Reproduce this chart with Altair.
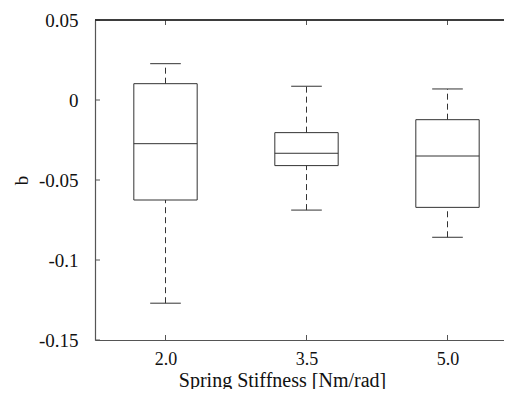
import altair as alt
import pandas as pd

positions = [2.0, 3.5, 5.0]
upper_whisker = [0.0227, 0.0086, 0.0069]
q3 = [0.0102, -0.0204, -0.0123]
median = [-0.0273, -0.0333, -0.0350]
q1 = [-0.0625, -0.0410, -0.0671]
lower_whisker = [-0.1270, -0.0688, -0.0858]

x_ticks = [2.0, 3.5, 5.0]
y_ticks = [-0.15, -0.1, -0.05, 0, 0.05]

BOX_HALF = 0.337
CAP_HALF = 0.163
FONT = "Liberation Serif"
BOX_COLOR = "#333333"
AXIS_COLOR = "#555555"
PLOT_W = 409
PLOT_H = 320

df = pd.DataFrame({
    "pos": positions, "uw": upper_whisker, "q3": q3,
    "med": median, "q1": q1, "lw": lower_whisker,
})
xt = pd.DataFrame({"t": x_ticks})
yt = pd.DataFrame({"t": y_ticks})

xs = alt.Scale(domain=[1.25, 1.25 + PLOT_W / 94.0], nice=False, zero=False)
ys = alt.Scale(domain=[-0.15, 0.05], nice=False, zero=False)

base = alt.Chart(df).transform_calculate(
    bl=f"datum.pos - {BOX_HALF}", br=f"datum.pos + {BOX_HALF}",
    cl=f"datum.pos - {CAP_HALF}", cr=f"datum.pos + {CAP_HALF}",
)

boxes = base.mark_rect(fill="white", stroke=BOX_COLOR, strokeWidth=1).encode(
    x=alt.X("bl:Q", scale=xs, title="Spring Stiffness [Nm/rad]",
            axis=alt.Axis(values=x_ticks, format=".1f", ticks=False, grid=False,
                          domainColor=AXIS_COLOR, domainWidth=1.2,
                          labelPadding=10, labelFontSize=18,
                          titleX=187, titleY=46,
                          titleAlign="center", titleBaseline="alphabetic",
                          titleFontSize=20)),
    x2="br:Q",
    y=alt.Y("q1:Q", scale=ys, title="b",
            axis=alt.Axis(values=y_ticks, labelExpr="datum.value + ''",
                          ticks=False, grid=False, domainColor=AXIS_COLOR,
                          domainWidth=1.2, labelPadding=17, titlePadding=7)),
    y2="q3:Q",
)

medians = base.mark_rule(color=BOX_COLOR, strokeWidth=1).encode(
    x=alt.X("bl:Q", scale=xs), x2="br:Q",
    y=alt.Y("med:Q", scale=ys),
)

whisk_up = base.mark_rule(color=BOX_COLOR, strokeWidth=1, strokeDash=[6, 4]).encode(
    x=alt.X("pos:Q", scale=xs), y=alt.Y("q3:Q", scale=ys), y2="uw:Q",
)
whisk_dn = base.mark_rule(color=BOX_COLOR, strokeWidth=1, strokeDash=[6, 4]).encode(
    x=alt.X("pos:Q", scale=xs), y=alt.Y("lw:Q", scale=ys), y2="q1:Q",
)
cap_up = base.mark_rule(color=BOX_COLOR, strokeWidth=1).encode(
    x=alt.X("cl:Q", scale=xs), x2="cr:Q", y=alt.Y("uw:Q", scale=ys),
)
cap_dn = base.mark_rule(color=BOX_COLOR, strokeWidth=1).encode(
    x=alt.X("cl:Q", scale=xs), x2="cr:Q", y=alt.Y("lw:Q", scale=ys),
)

tick_bottom = alt.Chart(xt).mark_rule(color=AXIS_COLOR, strokeWidth=1).encode(
    x=alt.X("t:Q", scale=xs), y=alt.value(PLOT_H), y2=alt.value(PLOT_H - 5),
)
tick_top = alt.Chart(xt).mark_rule(color=AXIS_COLOR, strokeWidth=1).encode(
    x=alt.X("t:Q", scale=xs), y=alt.value(0), y2=alt.value(5),
)
tick_left = alt.Chart(yt).mark_rule(color=AXIS_COLOR, strokeWidth=1).encode(
    y=alt.Y("t:Q", scale=ys), x=alt.value(0), x2=alt.value(5),
)
top_line = alt.Chart(xt).mark_rule(color="#222222", strokeWidth=1.2).encode(
    x=alt.value(0), x2=alt.value(PLOT_W), y=alt.value(0),
)

chart = alt.layer(
    boxes, medians, whisk_up, whisk_dn, cap_up, cap_dn,
    tick_bottom, tick_top, tick_left, top_line,
).properties(
    width=PLOT_W, height=PLOT_H,
    autosize=alt.AutoSizeParams(type="none"),
    padding={"left": 87, "top": 12, "right": 0, "bottom": 49},
).configure_view(strokeWidth=0).configure_axis(
    labelFont=FONT, titleFont=FONT, labelFontSize=19, titleFontSize=19,
    labelColor="#111111", titleColor="#111111", titleFontWeight="normal",
)

chart.save("out.html", embed_options={"renderer": "svg", "actions": False})
